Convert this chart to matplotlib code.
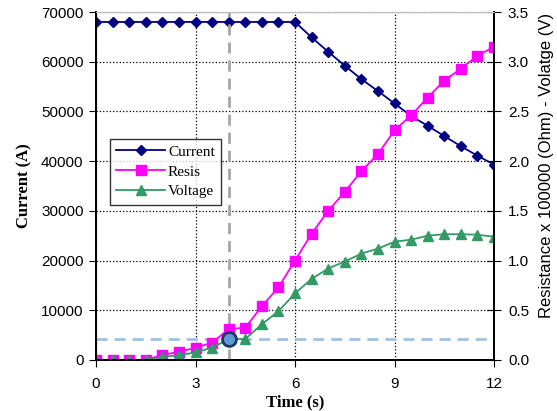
import numpy as np
import matplotlib.pyplot as plt

time_s = [0, 0.5, 1, 1.5, 2, 2.5, 3, 3.5, 4, 4.5, 5, 5.5, 6,
          6.5, 7, 7.5, 8, 8.5, 9, 9.5, 10, 10.5, 11, 11.5, 12]
current = [68000] * 13 + [64900, 62000, 59200, 56500, 54100, 51600,
                          49100, 47100, 45050, 43000, 41100, 39300]
resis = [0, 0, 0, 0, 0.053, 0.08, 0.124, 0.174, 0.31, 0.325, 0.54, 0.73, 1.0,
         1.27, 1.50, 1.69, 1.90, 2.07, 2.31, 2.46, 2.64, 2.81, 2.93, 3.06, 3.15]
voltage = [0, 0, 0, 0, 0.033, 0.047, 0.077, 0.124, 0.21, 0.21, 0.36, 0.49, 0.67,
           0.815, 0.92, 0.99, 1.07, 1.12, 1.19, 1.21, 1.25, 1.265, 1.265, 1.26, 1.24]
mark_t = 4
mark_v = 0.21

plt.rcParams['font.family'] = 'Liberation Sans'
serif = 'Liberation Serif'

fig = plt.figure(figsize=(5.57, 4.11), dpi=100)
ax1 = fig.add_axes([0.1724, 0.1241, 0.7145, 0.8467])
ax2 = ax1.twinx()

l1, = ax1.plot(time_s, current, color='#000080', marker='D', markersize=5,
               linewidth=1.3, label='Current')
l2, = ax2.plot(time_s, resis, color='#ff00ff', marker='s', markersize=7,
               linewidth=1.3, label='Resis')
l3, = ax2.plot(time_s, voltage, color='#339966', marker='^', markersize=7,
               linewidth=1.3, label='Voltage')

ax2.axvline(mark_t, color='#a6a6a6', linewidth=2, linestyle=(0, (4, 2.5)), zorder=1)
ax2.axhline(mark_v, color='#9dc3e6', linewidth=2, linestyle=(0, (4, 2.5)), zorder=1)
ax2.plot([mark_t], [mark_v], marker='o', markersize=10, markerfacecolor='#5b9bd5',
         markeredgecolor='#1f3864', markeredgewidth=2, zorder=5)

ax1.set_xlim(0, 12)
ax1.set_ylim(0, 70000)
ax2.set_ylim(0, 3.5)
ax1.set_xticks([0, 3, 6, 9, 12])
ax1.set_yticks(np.arange(0, 70001, 10000))
ax2.set_yticks(np.arange(0, 3.51, 0.5))
ax2.set_yticklabels(['%.1f' % v for v in np.arange(0, 3.51, 0.5)])

ax1.grid(True, color='black', linestyle=':', linewidth=0.9)
ax1.tick_params(axis='y', labelsize=11, direction='out', length=5, pad=4)
ax1.tick_params(axis='x', labelsize=11, direction='out', length=5, pad=7)
ax2.tick_params(labelsize=11, direction='inout', length=10, pad=5)

for ax in (ax1, ax2):
    ax.spines['top'].set_color('#bfbfbf')
    ax.spines['left'].set_linewidth(1.3)
    ax.spines['right'].set_linewidth(1.3)
    ax.spines['bottom'].set_linewidth(1.3)

ax1.set_xlabel('Time (s)', fontfamily=serif, fontweight='bold', fontsize=12, labelpad=3)
ax1.set_ylabel('Current (A)', fontfamily=serif, fontweight='bold', fontsize=12, labelpad=6)
ax2.set_ylabel('Resistance x 100000 (Ohm) - Volatge (V)', fontsize=12)
ax2.yaxis.set_label_coords(1.112, 0.56)

leg = ax2.legend(handles=[l1, l2, l3], loc='upper left', bbox_to_anchor=(0.035, 0.635),
                 prop={'family': serif, 'size': 11}, frameon=True, fancybox=False,
                 borderpad=0.4, labelspacing=0.4, handlelength=3.2, handletextpad=0.2,
                 borderaxespad=0)
leg.get_frame().set_edgecolor('black')
leg.get_frame().set_linewidth(1.0)

fig.savefig('out.png', dpi=100)
